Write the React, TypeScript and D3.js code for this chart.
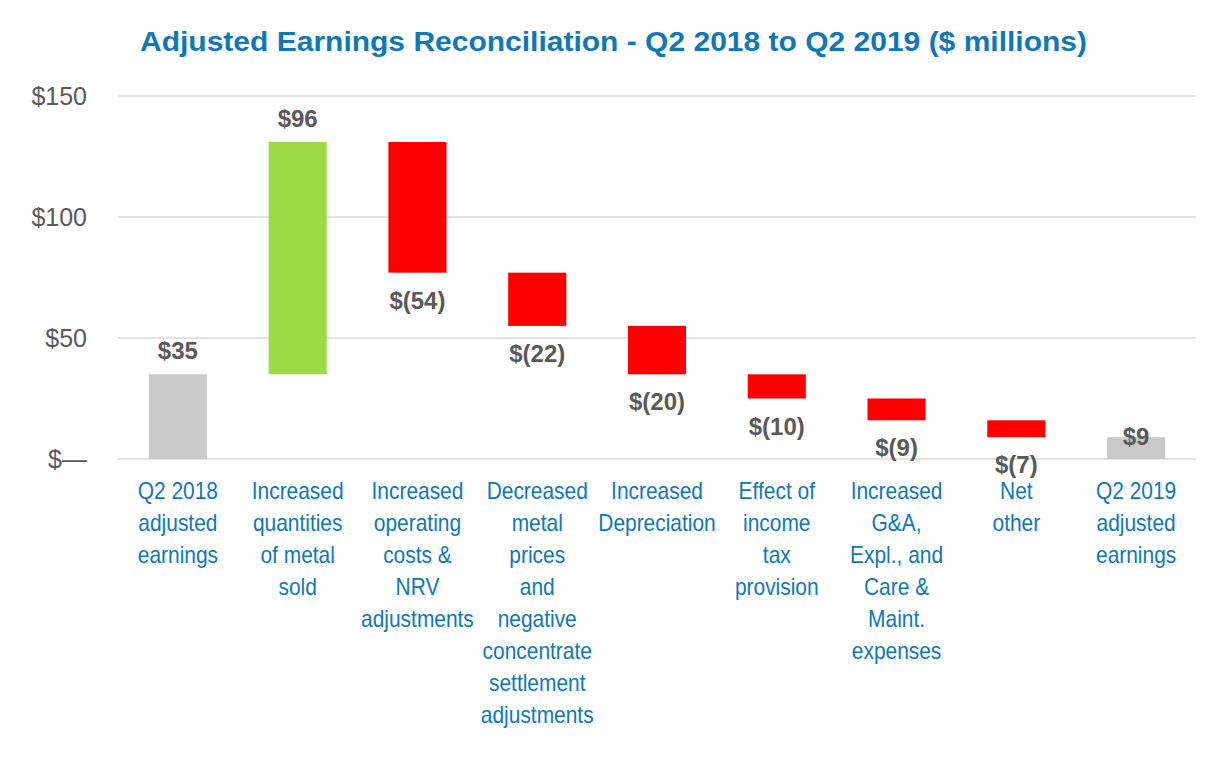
import React from "react";
import * as d3 from "d3";

const categories: string[][] = [
  ["Q2 2018", "adjusted", "earnings"],
  ["Increased", "quantities", "of metal", "sold"],
  ["Increased", "operating", "costs &", "NRV", "adjustments"],
  ["Decreased", "metal", "prices", "and", "negative", "concentrate", "settlement", "adjustments"],
  ["Increased", "Depreciation"],
  ["Effect of", "income", "tax", "provision"],
  ["Increased", "G&A,", "Expl., and", "Care &", "Maint.", "expenses"],
  ["Net", "other"],
  ["Q2 2019", "adjusted", "earnings"],
];
const changes: number[] = [35, 96, -54, -22, -20, -10, -9, -7, 9];
const kinds: string[] = ["total", "delta", "delta", "delta", "delta", "delta", "delta", "delta", "total"];
const valueLabels: string[] = ["$35", "$96", "$(54)", "$(22)", "$(20)", "$(10)", "$(9)", "$(7)", "$9"];
const yTicks: number[] = [0, 50, 100, 150];
const yTickLabels: string[] = ["$\u2014", "$50", "$100", "$150"];
const title = "Adjusted Earnings Reconciliation - Q2 2018 to Q2 2019 ($ millions)";

const W = 1226, H = 760;
const BLUE = "#1078b5";
const GRAY_TXT = "#595959";

export default function App() {
  const x = d3.scaleBand<number>().domain(d3.range(categories.length)).range([118, 1196]).paddingInner(0.515).paddingOuter(0.2575);
  const y = d3.scaleLinear().domain([0, 150]).range([459, 96]);

  let run = 0;
  const bars = changes.map((v, i) => {
    let lo: number, hi: number;
    if (kinds[i] === "total") {
      lo = 0; hi = v; run = v;
    } else {
      const start = run; run = run + v;
      lo = Math.min(start, run); hi = Math.max(start, run);
    }
    const color = kinds[i] === "total" ? "#c9c9c9" : v >= 0 ? "#9cdb46" : "#ff0000";
    return { i, lo, hi, v, color };
  });

  return (
    <svg width={W} height={H} style={{ position: "absolute", left: 0, top: 0, background: "#fff" }} fontFamily="'Liberation Sans', Arial, sans-serif">
      <text x={613.5} y={51} textAnchor="middle" fontSize={27} fontWeight="bold" fill={BLUE} textLength={947} lengthAdjust="spacingAndGlyphs">{title}</text>
      {yTicks.map((t, k) => (
        <g key={t}>
          <line x1={118} x2={1196} y1={y(t)} y2={y(t)} stroke="#e3e3e3" strokeWidth={2} />
          <text x={87} y={y(t) + 9} textAnchor="end" fontSize={25} fill={GRAY_TXT}>{yTickLabels[k]}</text>
        </g>
      ))}
      {bars.map((b) => (
        <rect key={b.i} x={x(b.i)} width={x.bandwidth()} y={y(b.hi)} height={y(b.lo) - y(b.hi)} fill={b.color} />
      ))}
      {bars.map((b) => {
        const cx = (x(b.i) as number) + x.bandwidth() / 2;
        let ty: number;
        if (b.i === bars.length - 1) ty = y(b.hi) + 8;
        else if (b.v >= 0) ty = y(b.hi) - 15;
        else ty = y(b.lo) + 36;
        return (
          <text key={b.i} x={cx} y={ty} textAnchor="middle" fontSize={24} fontWeight="bold" fill={GRAY_TXT}>{valueLabels[b.i]}</text>
        );
      })}
      {categories.map((lines, i) => {
        const cx = (x(i) as number) + x.bandwidth() / 2;
        return (
          <g key={i} transform={`translate(${cx},0) scale(0.91,1)`}>
            <text textAnchor="middle" fontSize={23} fill={BLUE}>
              {lines.map((l, j) => (
                <tspan key={j} x={0} y={499 + j * 32}>{l}</tspan>
              ))}
            </text>
          </g>
        );
      })}
    </svg>
  );
}
